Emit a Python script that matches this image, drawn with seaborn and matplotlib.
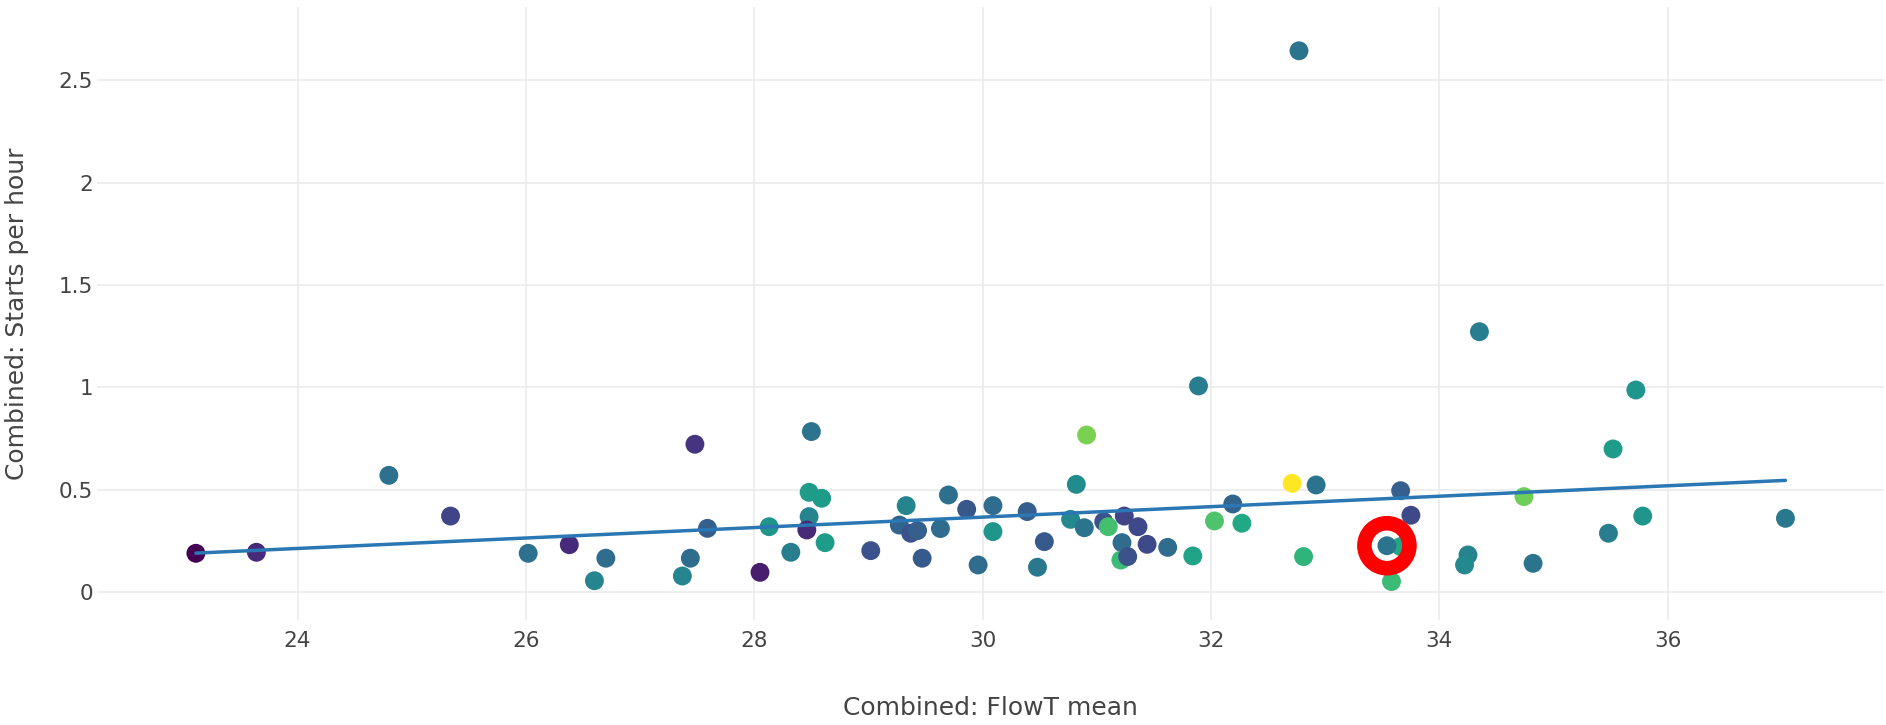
import numpy as np
import pandas as pd
import matplotlib
matplotlib.use("Agg")
import matplotlib.pyplot as plt
import seaborn as sns

# ---- data ----
flowt_mean = [
    23.11, 23.64, 24.80, 25.34, 26.02, 26.38, 26.70, 26.60, 27.44, 27.37, 27.48, 27.59,
    28.50, 28.13, 28.05, 28.32, 28.48, 28.59, 28.48, 28.46, 28.62, 29.02, 29.33, 29.27,
    29.37, 29.43, 29.47, 29.63, 29.70, 29.86, 29.96, 30.09, 30.09, 30.39, 30.48, 30.54,
    30.91, 30.82, 30.77, 30.89, 31.06, 31.10, 31.24, 31.36, 31.22, 31.21, 31.27, 31.44,
    31.62, 31.84, 31.89, 32.19, 32.03, 32.27, 32.71,
    34.35, 35.72, 35.52, 32.92, 33.66, 33.75, 34.74, 35.78, 35.48, 37.03, 32.81,
    33.66, 33.58, 34.25, 34.22, 34.82, 32.77, 33.54,
]
starts_per_hour = [
    0.189, 0.194, 0.570, 0.371, 0.189, 0.231, 0.165, 0.055, 0.165, 0.078, 0.722, 0.311,
    0.784, 0.319, 0.096, 0.194, 0.487, 0.458, 0.368, 0.303, 0.241, 0.202, 0.422, 0.327,
    0.287, 0.300, 0.165, 0.310, 0.474, 0.404, 0.132, 0.422, 0.295, 0.393, 0.121, 0.246,
    0.767, 0.526, 0.355, 0.314, 0.344, 0.319, 0.371, 0.319, 0.241, 0.156, 0.173, 0.233,
    0.218, 0.176, 1.007, 0.430, 0.347, 0.336, 0.531,
    1.272, 0.987, 0.699, 0.523, 0.495, 0.375, 0.466, 0.371, 0.287, 0.360, 0.173,
    0.222, 0.051, 0.181, 0.132, 0.140, 2.645, 0.226,
]
color_value = [
    0.00, 0.12, 0.37, 0.20, 0.37, 0.12, 0.35, 0.45, 0.35, 0.45, 0.15, 0.30,
    0.38, 0.52, 0.08, 0.42, 0.55, 0.55, 0.45, 0.12, 0.55, 0.25, 0.45, 0.32,
    0.25, 0.30, 0.28, 0.35, 0.36, 0.27, 0.35, 0.35, 0.52, 0.30, 0.40, 0.28,
    0.80, 0.48, 0.47, 0.38, 0.25, 0.70, 0.20, 0.22, 0.35, 0.68, 0.25, 0.22,
    0.35, 0.58, 0.42, 0.32, 0.72, 0.60, 1.00,
    0.42, 0.52, 0.55, 0.38, 0.30, 0.22, 0.78, 0.52, 0.42, 0.40, 0.65,
    0.60, 0.68, 0.45, 0.47, 0.38, 0.38, 0.38,
]
highlight_index = 72  # the circled point

x_ticks = [24, 26, 28, 30, 32, 34, 36]
y_ticks = [0, 0.5, 1, 1.5, 2, 2.5]
y_tick_labels = ["0", "0.5", "1", "1.5", "2", "2.5"]
x_label = "Combined: FlowT mean"
y_label = "Combined: Starts per hour"

df = pd.DataFrame({"x": flowt_mean, "y": starts_per_hour, "c": color_value})

sns.set_theme(style="white")
plt.rcParams["font.family"] = ["DejaVu Sans"]

W, H = 1886, 725
fig = plt.figure(figsize=(W / 100, H / 100), dpi=100)
left, right, top, bottom = 97, 1884, 7, 620
ax = fig.add_axes([left / W, 1 - bottom / H, (right - left) / W, (bottom - top) / H])

sns.scatterplot(data=df, x="x", y="y", hue="c", palette="viridis", hue_norm=(0, 1),
                s=185, linewidth=0, legend=False, ax=ax, zorder=3)
sns.regplot(data=df, x="x", y="y", scatter=False, ci=None, ax=ax,
            line_kws=dict(color="#2a77b4", lw=2.5, zorder=4))

hx = flowt_mean[highlight_index]
hy = starts_per_hour[highlight_index]
ax.scatter([hx], [hy], s=1050, facecolors="none", edgecolors="#ff0000", linewidths=10.5, zorder=5)

ax.set_xlim(22.244, 37.893)
ax.set_ylim(-0.137, 2.859)
ax.set_xticks(x_ticks)
ax.set_xticklabels([str(t) for t in x_ticks])
ax.set_yticks(y_ticks)
ax.set_yticklabels(y_tick_labels)
ax.grid(True, color="#ebebeb", lw=1.2)
ax.set_axisbelow(True)
for s in ax.spines.values():
    s.set_visible(False)
ax.tick_params(axis="both", length=0, labelsize=15.5, colors="#444444")
ax.tick_params(axis="x", pad=8)
ax.tick_params(axis="y", pad=3)
ax.set_xlabel(x_label, fontsize=18, color="#444444")
ax.set_ylabel(y_label, fontsize=18, color="#444444")
ax.xaxis.set_label_coords(0.5, -0.1436)
ax.xaxis.label.set_va("center")
ax.yaxis.set_label_coords(-0.0448, 0.5)
ax.yaxis.label.set_va("center")

fig.savefig("out.png", dpi=100)
